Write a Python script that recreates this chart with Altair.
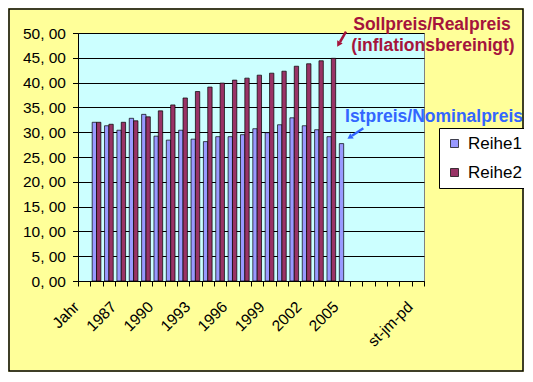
import json
import altair as alt
import pandas as pd

categories = ["Jahr", "1985", "1986", "1987", "1988", "1989", "1990", "1991", "1992",
              "1993", "1994", "1995", "1996", "1997", "1998", "1999", "2000", "2001",
              "2002", "2003", "2004", "2005", "2006", "2007", "2008", "2009", "2010",
              "st-jm-pd"]
shown_labels = ["Jahr", "1987", "1990", "1993", "1996", "1999", "2002", "2005", "st-jm-pd"]
reihe1 = [32.0, 31.3, 30.4, 32.8, 33.6, 29.2, 28.4, 30.4, 28.6, 28.1, 29.1,
          29.1, 29.5, 30.7, 29.9, 31.5, 32.9, 31.3, 30.5, 29.1, 27.7]
reihe2 = [32.0, 31.6, 32.0, 32.3, 33.1, 34.3, 35.5, 36.9, 38.2, 39.1, 39.9,
          40.5, 40.9, 41.5, 41.9, 42.3, 43.3, 43.8, 44.4, 44.9]
series = ["Reihe1", "Reihe2"]
colors = ["#9999FF", "#993366"]
y_ticks = [0, 5, 10, 15, 20, 25, 30, 35, 40, 45, 50]

rows = []
for cat, v in zip(categories[1:], reihe1):
    rows.append({"Jahr": cat, "Reihe": "Reihe1", "Wert": v})
for cat, v in zip(categories[1:], reihe2):
    rows.append({"Jahr": cat, "Reihe": "Reihe2", "Wert": v})
df = pd.DataFrame(rows)

font = "Liberation Sans"
one = pd.DataFrame({"k": [0]})

label_expr = "indexof(" + json.dumps(shown_labels) + ", datum.value) >= 0 ? datum.value : ''"

bars = alt.Chart(df).mark_bar(stroke="black", strokeWidth=0.7).encode(
    x=alt.X("Jahr:N", sort=categories,
            scale=alt.Scale(domain=categories, paddingInner=0, paddingOuter=0),
            axis=alt.Axis(title=None, labelAngle=-45, labelAlign="right", labelBaseline="top",
                          labelPadding=13, labelOffset=-13, labelFontSize=15.5, labelFont=font,
                          labelColor="black",
                          tickBand="extent", tickSize=5, tickColor="black", domainColor="black",
                          labelExpr=label_expr, grid=False, labelOverlap=False)),
    xOffset=alt.XOffset("Reihe:N", scale=alt.Scale(domain=series, paddingOuter=0.42, paddingInner=0)),
    y=alt.Y("Wert:Q", scale=alt.Scale(domain=[0, 50], nice=False),
            axis=alt.Axis(title=None, values=y_ticks,
                          labelExpr="replace(format(datum.value, '.2f'), '.', ', ')",
                          labelFontSize=15.5, labelFont=font, labelColor="black", labelPadding=7,
                          tickSize=5.5, tickColor="black", domainColor="black",
                          grid=True, gridColor="black", gridWidth=1)),
    color=alt.Color("Reihe:N", scale=alt.Scale(domain=series, range=colors),
                    legend=alt.Legend(orient="none", legendX=361, legendY=95, title=None,
                                      fillColor="white", strokeColor="black", padding=7,
                                      symbolType="square", symbolSize=64,
                                      symbolStrokeColor="black", symbolStrokeWidth=0.7,
                                      labelFontSize=17, labelFont=font, labelColor="black",
                                      rowPadding=11, labelOffset=5)),
)

border = alt.Chart(one).mark_rect(fill=None, stroke="black", strokeWidth=1.5).encode(
    x=alt.value(-69), x2=alt.value(445), y=alt.value(-24), y2=alt.value(338))

red = "#A5143C"
blue = "#3366FF"

t1 = alt.Chart(one).mark_text(text="Sollpreis/Realpreis", font=font, fontSize=17.5, fontWeight="bold",
                              color=red, align="center", baseline="alphabetic").encode(
    x=alt.value(354), y=alt.value(-3))
t2 = alt.Chart(one).mark_text(text="(inflationsbereinigt)", font=font, fontSize=17.5, fontWeight="bold",
                              color=red, align="center", baseline="alphabetic").encode(
    x=alt.value(355), y=alt.value(17.5))
t3 = alt.Chart(one).mark_text(text="Istpreis/Nominalpreis", font=font, fontSize=17.5, fontWeight="bold",
                              color=blue, align="center", baseline="alphabetic").encode(
    x=alt.value(356), y=alt.value(88.5))

a1 = alt.Chart(one).mark_rule(color=red, strokeWidth=2.5).encode(
    x=alt.value(268), y=alt.value(-1.3), x2=alt.value(262), y2=alt.value(9))
h1 = alt.Chart(one).mark_point(shape="triangle", filled=True, color=red, opacity=1, size=40, angle=210).encode(
    x=alt.value(261), y=alt.value(10.5))
a2 = alt.Chart(one).mark_rule(color=blue, strokeWidth=2.5).encode(
    x=alt.value(285.3), y=alt.value(95.3), x2=alt.value(274), y2=alt.value(102.8))
h2 = alt.Chart(one).mark_point(shape="triangle", filled=True, color=blue, opacity=1, size=40, angle=236).encode(
    x=alt.value(272.5), y=alt.value(103.8))

chart = alt.layer(border, bars, t1, t2, t3, a1, h1, a2, h2).properties(
    width=346, height=248,
    background="#FFFF99",
    padding={"left": 70, "top": 25, "right": 100, "bottom": 91},
    autosize=alt.AutoSizeParams(type="none"),
).configure_view(fill="#CCFFFF", stroke="#808080", strokeWidth=1)

chart.save("out.html", embed_options={"renderer": "svg", "actions": False})
